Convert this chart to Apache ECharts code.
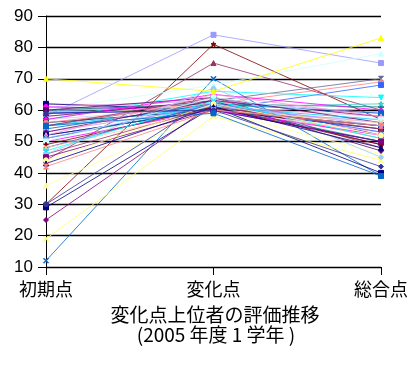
<!DOCTYPE html>
<html><head><meta charset="utf-8">
<script src="https://cdn.jsdelivr.net/npm/echarts@6/dist/echarts.min.js"></script>
<style>html,body{margin:0;padding:0;background:#fff}#c{width:418px;height:366px}</style>
</head><body><div id="c"></div>
<script>
const categories = ['初期点', '変化点', '総合点'];
const yTicks = { min: 10, max: 90, interval: 10 };
const titleLines = ['変化点上位者の評価推移', '(2005 年度 1 学年 )'];

// one entry per student: initial score, change score, total score
const initialScores = [70, 58, 30, 44, 12, 19, 36, 25, 29, 30, 60, 55, 48, 52, 57,
  62, 62, 61, 61, 60, 60, 60, 59, 59, 58, 58, 57, 57, 56, 56, 55, 55, 54, 54, 53,
  53, 52, 52, 51, 51, 50, 50, 49, 48, 48, 47, 46, 46, 45, 44, 43, 42, 59, 55];
const changeScores = [66, 84, 81, 75, 70, 58, 60, 62, 61, 64, 68, 63, 62, 60, 66,
  61, 60, 63, 60, 62, 59, 64, 61, 60, 62, 63, 61, 65, 60, 62, 61, 64, 60, 62, 61,
  63, 60, 65, 61, 62, 60, 64, 61, 62, 60, 63, 61, 67, 60, 62, 61, 60, 60, 59];
const totalScores = [83, 75, 57, 60, 39, 44, 46, 49, 40, 52, 78, 70, 69, 68, 64,
  58, 55, 59, 53, 61, 57, 56, 62, 50, 54, 58, 52, 60, 55, 51, 57, 48, 53, 59, 56,
  47, 54, 58, 50, 55, 52, 57, 49, 53, 56, 51, 54, 45, 50, 52, 48, 55, 42, 39];

const palette = ['#FFFF00', '#9999FF', '#800000', '#993366', '#0066CC', '#FFFF66', '#FFFF99', '#800080',
  '#000080', '#333399', '#CCFFFF', '#666699', '#FF8080', '#3366FF', '#00FFFF',
  '#FF99CC', '#000080', '#CC99FF', '#FF00FF', '#008080', '#99CCFF', '#660066', '#33CCCC', '#0000FF',
  '#FFCC99', '#800080', '#CCCCFF', '#FF00FF', '#003366', '#FF8080', '#00CCFF', '#993366',
  '#FFFFCC', '#0066CC', '#CC99FF', '#660066', '#000080', '#FF99CC', '#008080', '#9999FF',
  '#FF00FF', '#CCFFFF', '#800000', '#3366FF', '#FFCC99', '#00FFFF', '#993366', '#99CCFF',
  '#800080', '#FFFF99', '#000080', '#FF8080', '#333399', '#0066CC'];
const shapes = ['triangle', 'rect', 'path://M5,0L6.2,3.8L10,3.8L6.9,6.1L8.1,10L5,7.6L1.9,10L3.1,6.1L0,3.8L3.8,3.8Z',
  'triangle', 'path://M0,1L1,0L5,4L9,0L10,1L6,5L10,9L9,10L5,6L1,10L0,9L4,5Z', 'path://M0,1L1,0L5,4L9,0L10,1L6,5L10,9L9,10L5,6L1,10L0,9L4,5Z',
  'triangle', 'diamond', 'rect', 'circle', 'triangle', 'path://M0,0H10L5,5L10,10H0L5,5Z', 'diamond', 'rect', 'path://M0,0H10L5,10Z',
  'diamond', 'rect', 'triangle', 'circle', 'path://M4,0H6V4H10V6H6V10H4V6H0V4H4Z'];

const series = initialScores.map((v, i) => ({
  type: 'line',
  data: [v, changeScores[i], totalScores[i]],
  symbol: shapes[i % shapes.length],
  symbolSize: 5,
  lineStyle: { width: 0.8, color: palette[i % palette.length] },
  itemStyle: { color: palette[i % palette.length], borderColor: palette[i % palette.length] },
  z: 2 + (i === 0 ? 10 : 0)
}));

const chart = echarts.init(document.getElementById('c'), null, { renderer: 'canvas' });
chart.setOption({
  animation: false,
  backgroundColor: '#fff',
  grid: { left: 46, right: 37, top: 16, bottom: 99 },
  xAxis: {
    type: 'category', data: categories, boundaryGap: false,
    axisLine: { lineStyle: { color: '#000', width: 1 } },
    axisTick: { show: true, length: 8, lineStyle: { color: '#000' }, alignWithLabel: true },
    axisLabel: { color: '#000', fontSize: 18, margin: 13, fontFamily: 'Noto Sans CJK JP' },
    splitLine: { show: false }
  },
  yAxis: {
    type: 'value', min: yTicks.min, max: yTicks.max, interval: yTicks.interval,
    axisLine: { show: true, lineStyle: { color: '#000', width: 1 } },
    axisTick: { show: true, length: 8, lineStyle: { color: '#000' } },
    axisLabel: { color: '#000', fontSize: 17, margin: 13, fontFamily: 'Liberation Sans' },
    splitLine: { show: true, lineStyle: { color: '#000', width: 1.3 } }
  },
  graphic: [
    { type: 'text', x: 215, y: 305, style: { text: titleLines[0], fontSize: 19, fill: '#000', textAlign: 'center', fontFamily: 'Noto Sans CJK JP' } },
    { type: 'text', x: 216, y: 325, style: { text: titleLines[1], fontSize: 19, fill: '#000', textAlign: 'center', fontFamily: 'Noto Sans CJK JP' } }
  ],
  series: series
});
</script></body></html>
